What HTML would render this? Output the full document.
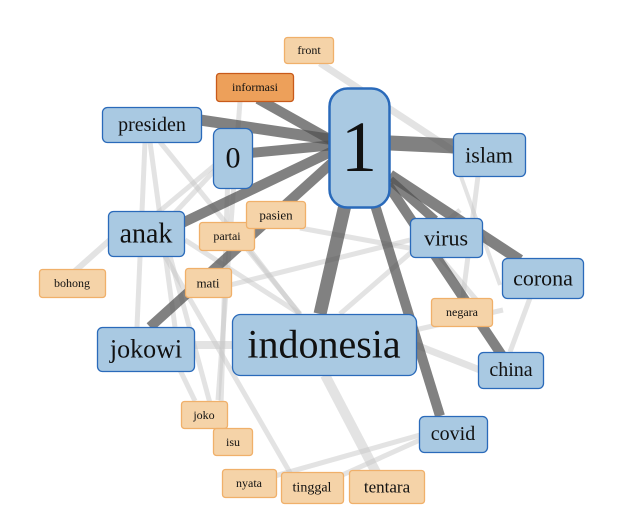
<!DOCTYPE html>
<html><head><meta charset="utf-8"><style>
html,body{margin:0;padding:0;background:#fff;width:643px;height:532px;overflow:hidden}
svg text{font-family:"Liberation Serif",serif;fill:#111;text-anchor:middle;dominant-baseline:central}
</style></head><body>
<svg width="643" height="532" viewBox="0 0 643 532" xmlns="http://www.w3.org/2000/svg">
<g stroke="#c8c8c8" stroke-opacity="0.5" stroke-linecap="butt" fill="none">
<line x1="320" y1="63" x2="475" y2="165" stroke-width="7"/>
<line x1="240" y1="101" x2="218" y2="400" stroke-width="5"/>
<line x1="145" y1="142" x2="137" y2="327" stroke-width="5"/>
<line x1="150" y1="142" x2="175" y2="327" stroke-width="5"/>
<line x1="160" y1="142" x2="300" y2="314" stroke-width="5"/>
<line x1="215" y1="170" x2="140" y2="250" stroke-width="5"/>
<line x1="215" y1="165" x2="155" y2="215" stroke-width="5"/>
<line x1="110" y1="240" x2="65" y2="280" stroke-width="6"/>
<line x1="165" y1="256" x2="300" y2="490" stroke-width="5"/>
<line x1="170" y1="256" x2="220" y2="440" stroke-width="5"/>
<line x1="185" y1="240" x2="300" y2="314" stroke-width="5"/>
<line x1="300" y1="228" x2="420" y2="250" stroke-width="5"/>
<line x1="230" y1="285" x2="410" y2="240" stroke-width="5"/>
<line x1="250" y1="250" x2="300" y2="315" stroke-width="5"/>
<line x1="340" y1="314" x2="460" y2="210" stroke-width="5"/>
<line x1="440" y1="257" x2="485" y2="310" stroke-width="5"/>
<line x1="478" y1="176" x2="460" y2="320" stroke-width="5"/>
<line x1="415" y1="330" x2="503" y2="310" stroke-width="5"/>
<line x1="416" y1="345" x2="480" y2="370" stroke-width="7"/>
<line x1="530" y1="298" x2="510" y2="352" stroke-width="5"/>
<line x1="194" y1="345" x2="232" y2="345" stroke-width="8"/>
<line x1="228" y1="170" x2="220" y2="440" stroke-width="5"/>
<line x1="325" y1="375" x2="380" y2="480" stroke-width="10"/>
<line x1="420" y1="435" x2="250" y2="483" stroke-width="5"/>
<line x1="420" y1="440" x2="320" y2="485" stroke-width="5"/>
<line x1="180" y1="370" x2="195" y2="401" stroke-width="5"/>
<line x1="455" y1="160" x2="500" y2="285" stroke-width="4"/>
</g>
<g stroke="#505050" stroke-opacity="0.72" fill="none">
<line x1="258" y1="99" x2="340" y2="145" stroke-width="10"/>
<line x1="200" y1="120" x2="335" y2="140" stroke-width="11"/>
<line x1="250" y1="153" x2="335" y2="145" stroke-width="10"/>
<line x1="180" y1="224" x2="335" y2="150" stroke-width="10"/>
<line x1="390" y1="143" x2="455" y2="146" stroke-width="15"/>
<line x1="150" y1="327" x2="335" y2="160" stroke-width="10"/>
<line x1="320" y1="314" x2="345" y2="205" stroke-width="13"/>
<line x1="375" y1="205" x2="440" y2="416" stroke-width="10"/>
<line x1="388" y1="185" x2="505" y2="360" stroke-width="10"/>
<line x1="390" y1="180" x2="435" y2="220" stroke-width="9"/>
<line x1="390" y1="175" x2="520" y2="260" stroke-width="11"/>
</g>
<g stroke-width="1.3">
<rect x="284.5" y="37.5" width="49" height="26" rx="3" fill="#f5d3a8" stroke="#f0b06a"/>
<rect x="216.5" y="73.5" width="77" height="28" rx="3" fill="#eda05a" stroke="#c85a1a"/>
<rect x="102.5" y="107.5" width="99" height="35" rx="5" fill="#a9c9e2" stroke="#2a6aba"/>
<rect x="213.5" y="128.5" width="39" height="60" rx="7" fill="#a9c9e2" stroke="#2a6aba"/>
<rect x="453.5" y="133.5" width="72" height="43" rx="5" fill="#a9c9e2" stroke="#2a6aba"/>
<rect x="108.5" y="211.5" width="76" height="45" rx="5" fill="#a9c9e2" stroke="#2a6aba"/>
<rect x="199.5" y="222.5" width="55" height="28" rx="3" fill="#f5d3a8" stroke="#f0b06a"/>
<rect x="246.5" y="201.5" width="59" height="27" rx="3" fill="#f5d3a8" stroke="#f0b06a"/>
<rect x="410.5" y="218.5" width="72" height="39" rx="5" fill="#a9c9e2" stroke="#2a6aba"/>
<rect x="39.5" y="269.5" width="66" height="28" rx="3" fill="#f5d3a8" stroke="#f0b06a"/>
<rect x="185.5" y="268.5" width="46" height="29" rx="3" fill="#f5d3a8" stroke="#f0b06a"/>
<rect x="502.5" y="258.5" width="81" height="40" rx="5" fill="#a9c9e2" stroke="#2a6aba"/>
<rect x="431.5" y="298.5" width="61" height="28" rx="3" fill="#f5d3a8" stroke="#f0b06a"/>
<rect x="97.5" y="327.5" width="97" height="44" rx="5" fill="#a9c9e2" stroke="#2a6aba"/>
<rect x="232.5" y="314.5" width="184" height="61" rx="8" fill="#a9c9e2" stroke="#2a6aba"/>
<rect x="478.5" y="352.5" width="65" height="36" rx="5" fill="#a9c9e2" stroke="#2a6aba"/>
<rect x="181.5" y="401.5" width="46" height="27" rx="3" fill="#f5d3a8" stroke="#f0b06a"/>
<rect x="213.5" y="428.5" width="39" height="27" rx="3" fill="#f5d3a8" stroke="#f0b06a"/>
<rect x="419.5" y="416.5" width="68" height="36" rx="5" fill="#a9c9e2" stroke="#2a6aba"/>
<rect x="222.5" y="469.5" width="54" height="28" rx="3" fill="#f5d3a8" stroke="#f0b06a"/>
<rect x="281.5" y="472.5" width="62" height="31" rx="3" fill="#f5d3a8" stroke="#f0b06a"/>
<rect x="349.5" y="470.5" width="75" height="33" rx="3" fill="#f5d3a8" stroke="#f0b06a"/>
<rect x="329.5" y="88.5" width="60" height="119" rx="18" fill="#a9c9e2" stroke="#2a6aba" stroke-width="2.5"/>
</g>
<text x="309" y="50" font-size="12">front</text>
<text x="255" y="87" font-size="12">informasi</text>
<text x="152" y="125" font-size="20">presiden</text>
<text x="233" y="158" font-size="30">0</text>
<text x="489" y="155" font-size="22">islam</text>
<text x="146" y="234" font-size="28">anak</text>
<text x="227" y="236" font-size="12">partai</text>
<text x="276" y="215" font-size="13">pasien</text>
<text x="446" y="238" font-size="22">virus</text>
<text x="72" y="283" font-size="12">bohong</text>
<text x="208" y="283" font-size="13">mati</text>
<text x="543" y="278" font-size="22">corona</text>
<text x="462" y="312" font-size="12">negara</text>
<text x="146" y="349" font-size="26">jokowi</text>
<text x="324" y="344" font-size="40">indonesia</text>
<text x="511" y="370" font-size="20">china</text>
<text x="204" y="415" font-size="12">joko</text>
<text x="233" y="442" font-size="12">isu</text>
<text x="453" y="434" font-size="20">covid</text>
<text x="249" y="483" font-size="12">nyata</text>
<text x="312" y="488" font-size="14">tinggal</text>
<text x="387" y="487" font-size="17">tentara</text>
<text x="359" y="147" font-size="72">1</text>
</svg>
</body></html>
